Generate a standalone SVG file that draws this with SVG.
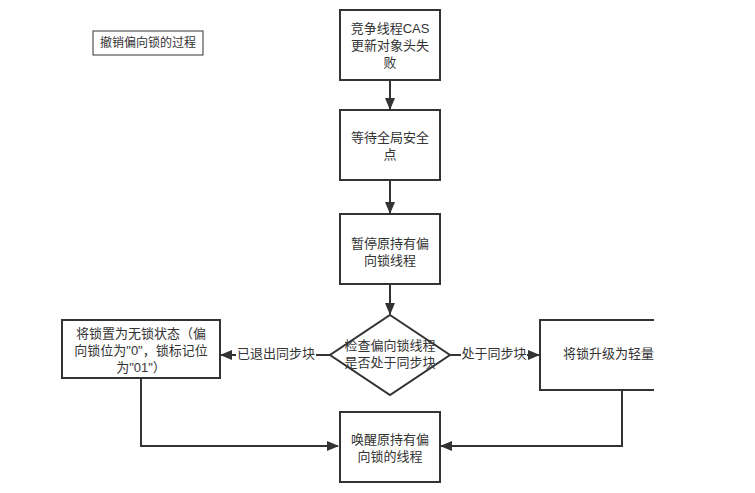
<svg xmlns="http://www.w3.org/2000/svg" width="755" height="493" viewBox="0 0 755 493">
<style>
text{font-family:"Liberation Sans","Noto Sans CJK SC",sans-serif;font-size:13px;fill:#333;text-anchor:middle}
.box{fill:#fff;stroke:#333;stroke-width:2}
.edge{fill:none;stroke:#333;stroke-width:2}
.lbl{fill:#fff;stroke:none}
</style>
<defs>
<marker id="ah" markerUnits="userSpaceOnUse" markerWidth="12" markerHeight="10" refX="11" refY="5" orient="auto">
<path d="M0,0 L12,5 L0,10 Z" fill="#333"/>
</marker>
<clipPath id="clipR"><rect x="0" y="0" width="654" height="493"/></clipPath>
</defs>
<rect width="755" height="493" fill="#fff"/>
<g id="title">
<rect x="93" y="31" width="110" height="24" fill="#fff" stroke="#333" stroke-width="1"/>
<text x="148" y="47" style="font-size:12px">撤销偏向锁的过程</text>
</g>
<g id="connectors">
<path class="edge" d="M390,80 V109" marker-end="url(#ah)"/>
<path class="edge" d="M390,180 V213" marker-end="url(#ah)"/>
<path class="edge" d="M390,284 V314" marker-end="url(#ah)"/>
<path class="edge" d="M330,355 H221" marker-end="url(#ah)"/>
<rect class="lbl" x="236" y="345" width="80" height="18"/>
<text x="276" y="358">已退出同步块</text>
<path class="edge" d="M450,355 H539" marker-end="url(#ah)"/>
<rect class="lbl" x="461" y="345" width="66" height="18"/>
<text x="494" y="358">处于同步块</text>
<path class="edge" d="M141,378 V446 H338" marker-end="url(#ah)"/>
<path class="edge" d="M622,390 V446 H441" marker-end="url(#ah)"/>
</g>
<g id="n1">
<rect class="box" x="340" y="10" width="100" height="70"/>
<text x="390" y="33">竞争线程CAS</text>
<text x="390" y="50">更新对象头失</text>
<text x="390" y="67">败</text>
</g>
<g id="n2">
<rect class="box" x="340" y="110" width="100" height="70"/>
<text x="390" y="142">等待全局安全</text>
<text x="390" y="159">点</text>
</g>
<g id="n3">
<rect class="box" x="340" y="214" width="100" height="70"/>
<text x="390" y="248">暂停原持有偏</text>
<text x="390" y="265">向锁线程</text>
</g>
<g id="n4">
<path class="box" d="M390,315 L450,355 L390,395 L330,355 Z"/>
<text x="390" y="350">检查偏向锁线程</text>
<text x="390" y="367">是否处于同步块</text>
</g>
<g id="n5">
<rect class="box" x="62" y="320" width="158" height="58"/>
<text x="141" y="338">将锁置为无锁状态（偏</text>
<text x="141" y="355">向锁位为"0"，锁标记位</text>
<text x="141" y="372">为"01"）</text>
</g>
<g id="n6" clip-path="url(#clipR)">
<rect class="box" x="540" y="320" width="140" height="70"/>
<text x="563" y="358" style="text-anchor:start">将锁升级为轻量</text>
</g>
<g id="n7">
<rect class="box" x="340" y="412" width="100" height="70"/>
<text x="390" y="444">唤醒原持有偏</text>
<text x="390" y="461">向锁的线程</text>
</g>
</svg>
